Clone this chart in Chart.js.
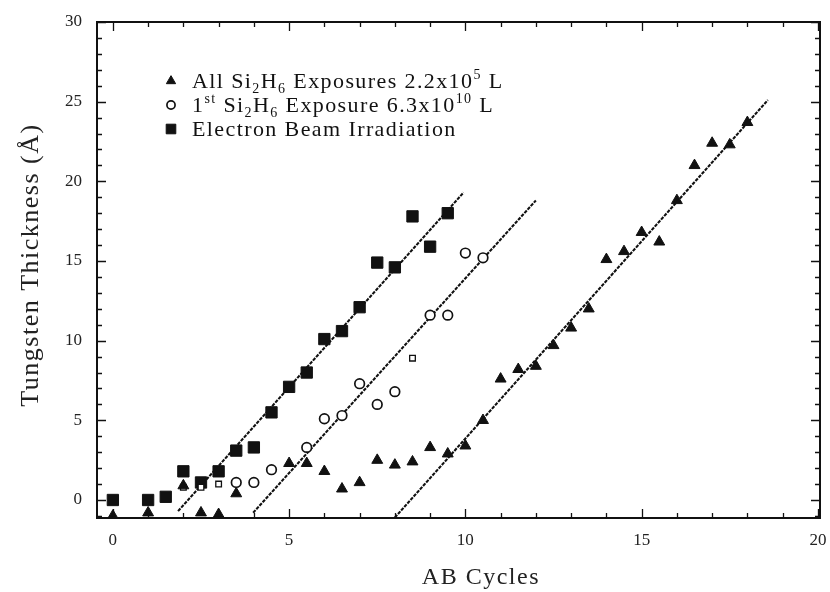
<!DOCTYPE html>
<html>
<head>
<meta charset="utf-8">
<script src="https://cdn.jsdelivr.net/npm/chart.js@4.4.1/dist/chart.umd.min.js"></script>
<style>
  html, body { margin: 0; padding: 0; background: #fff; }
  #wrap { width: 830px; height: 592px; }
</style>
</head>
<body>
<div id="wrap"><canvas id="growthChart"></canvas></div>
<script>
// ---- measurements: thickness (Å) vs AB cycle ----
const allExpCycles = [0, 1, 2, 2.5, 3, 3.5, 5, 5.5, 6, 6.5, 7, 7.5, 8, 8.5, 9, 9.5, 10, 10.5, 11, 11.5, 12, 12.5, 13, 13.5, 14, 14.5, 15, 15.5, 16, 16.5, 17, 17.5, 18];
const allExpThick = [-1.0, -0.8, 0.9, -0.8, -0.9, 0.4, 2.3, 2.3, 1.8, 0.7, 1.1, 2.5, 2.2, 2.4, 3.3, 2.9, 3.4, 5.0, 7.6, 8.2, 8.4, 9.7, 10.8, 12.0, 15.1, 15.6, 16.8, 16.2, 18.8, 21.0, 22.4, 22.3, 23.7];

const firstExpCycles = [3.5, 4, 4.5, 5.5, 6, 6.5, 7, 7.5, 8, 9, 9.5, 10, 10.5];
const firstExpThick = [1.1, 1.1, 1.9, 3.3, 5.1, 5.3, 7.3, 6.0, 6.8, 11.6, 11.6, 15.5, 15.2];

// small open squares scattered near the first-exposure points
const openSqCycles = [2, 2.5, 3, 8.5];
const openSqThick = [0.8, 0.8, 1.0, 8.9];

const beamCycles = [0, 1, 1.5, 2, 2.5, 3, 3.5, 4, 4.5, 5, 5.5, 6, 6.5, 7, 7.5, 8, 8.5, 9, 9.5];
const beamThick = [0, 0, 0.2, 1.8, 1.1, 1.8, 3.1, 3.3, 5.5, 7.1, 8.0, 10.1, 10.6, 12.1, 14.9, 14.6, 17.8, 15.9, 18.0];

// ---- linear fits (end points) ----
const beamFitX = [1.85, 9.95];
const beamFitY = [-0.7, 19.3];
const firstFitX = [3.98, 12.0];
const firstFitY = [-0.8, 18.8];
const allFitX = [8.0, 18.58];
const allFitY = [-1.1, 25.1];

// ---- axes ----
const xTickValues = [0, 5, 10, 15, 20];
const yTickValues = [0, 5, 10, 15, 20, 25, 30];
const xTitle = "AB Cycles";
const yTitle = "Tungsten Thickness (Å)";

// legend text, split into runs: 0 = normal, -1 = subscript, 1 = superscript
const legendRows = [
  [["All Si", 0], ["2", -1], ["H", 0], ["6", -1], [" Exposures 2.2x10", 0], ["5", 1], [" L", 0]],
  [["1", 0], ["st", 1], [" Si", 0], ["2", -1], ["H", 0], ["6", -1], [" Exposure 6.3x10", 0], ["10", 1], [" L", 0]],
  [["Electron Beam Irradiation", 0]],
];

const INK = "#111";
const SERIF = "'Liberation Serif', 'DejaVu Serif', serif";

function toPoints(xs, ys) {
  return xs.map((x, i) => ({ x: x, y: ys[i] }));
}

function fitLine(xs, ys) {
  return {
    type: "line",
    data: toPoints(xs, ys),
    borderColor: INK,
    borderWidth: 2.1,
    borderDash: [3.5, 1.2],
    pointRadius: 0,
    fill: false,
    order: 5,
  };
}

const datasets = [
  {
    label: "all",
    data: toPoints(allExpCycles, allExpThick),
    pointStyle: "triangle",
    pointRadius: 6.3,
    backgroundColor: INK,
    borderColor: INK,
    borderWidth: 1,
    legendRow: 0,
  },
  {
    label: "first",
    data: toPoints(firstExpCycles, firstExpThick),
    pointStyle: "circle",
    pointRadius: 4.8,
    backgroundColor: "#fff",
    borderColor: INK,
    borderWidth: 1.7,
    legendRow: 1,
  },
  {
    label: "open squares",
    data: toPoints(openSqCycles, openSqThick),
    pointStyle: "rect",
    pointRadius: 4,
    backgroundColor: "#fff",
    borderColor: INK,
    borderWidth: 1.3,
  },
  {
    label: "beam",
    data: toPoints(beamCycles, beamThick),
    pointStyle: "rect",
    pointRadius: 8,
    backgroundColor: INK,
    borderColor: INK,
    borderWidth: 1,
    legendRow: 2,
  },
  fitLine(beamFitX, beamFitY),
  fitLine(firstFitX, firstFitY),
  fitLine(allFitX, allFitY),
];

// inward tick marks on all four sides plus top/right frame
const frameTicks = {
  id: "frameTicks",
  afterDraw(chart) {
    const { ctx, chartArea: a, scales } = chart;
    const xs = scales.x, ys = scales.y;
    ctx.save();
    ctx.strokeStyle = INK;
    ctx.lineWidth = 2;
    ctx.beginPath();
    ctx.moveTo(a.left, a.top);
    ctx.lineTo(a.right, a.top);
    ctx.lineTo(a.right, a.bottom);
    ctx.stroke();

    ctx.lineWidth = 1.3;
    ctx.beginPath();
    for (let v = Math.ceil(xs.min); v <= xs.max; v++) {
      const len = v % 5 === 0 ? 9 : 5;
      const px = Math.round(xs.getPixelForValue(v)) + 0.5;
      ctx.moveTo(px, a.bottom);
      ctx.lineTo(px, a.bottom - len);
      ctx.moveTo(px, a.top);
      ctx.lineTo(px, a.top + len);
    }
    for (let v = Math.ceil(ys.min); v <= ys.max; v++) {
      const len = v % 5 === 0 ? 9 : 5;
      const py = Math.round(ys.getPixelForValue(v)) + 0.5;
      ctx.moveTo(a.left, py);
      ctx.lineTo(a.left + len, py);
      ctx.moveTo(a.right, py);
      ctx.lineTo(a.right - len, py);
    }
    ctx.stroke();
    ctx.restore();
  },
};

// axis captions, slightly letter-spaced like the old typeset figure
const axisCaptions = {
  id: "axisCaptions",
  afterDraw(chart) {
    const { ctx, chartArea: a } = chart;
    ctx.save();
    ctx.fillStyle = "#222";
    ctx.textAlign = "center";
    ctx.textBaseline = "middle";
    ctx.letterSpacing = "1.5px";

    ctx.font = "24px " + SERIF;
    ctx.fillText(xTitle, a.left + (a.right - a.left) * 0.531, 578);

    ctx.font = "26px " + SERIF;
    ctx.translate(31, (a.top + a.bottom) / 2 - 5);
    ctx.rotate(-Math.PI / 2);
    ctx.fillText(yTitle, 0, 0);
    ctx.restore();
  },
};

// legend with sub/superscripts, drawn inside the plot
const richLegend = {
  id: "richLegend",
  afterDraw(chart) {
    const { ctx, chartArea: a } = chart;
    const size = 22;
    const small = 14;
    const markerX = a.left + 74;
    const textX = a.left + 95;
    const rowY = [a.top + 59, a.top + 83, a.top + 107];
    ctx.save();
    ctx.letterSpacing = "1.4px";
    chart.data.datasets.forEach((ds) => {
      if (ds.legendRow === undefined) return;
      const y = rowY[ds.legendRow];
      ctx.fillStyle = ds.backgroundColor;
      ctx.strokeStyle = ds.borderColor;
      ctx.lineWidth = ds.borderWidth;
      Chart.helpers.drawPoint(ctx, {
        pointStyle: ds.pointStyle,
        radius: ds.pointRadius * 0.85,
        rotation: 0,
        borderWidth: ds.borderWidth,
      }, markerX, y);

      let x = textX;
      ctx.fillStyle = INK;
      ctx.textBaseline = "alphabetic";
      legendRows[ds.legendRow].forEach(([txt, shift]) => {
        ctx.font = (shift === 0 ? size : small) + "px " + SERIF;
        const dy = shift === 0 ? 0 : shift < 0 ? 5 : -9;
        ctx.fillText(txt, x, y + 7 + dy);
        x += ctx.measureText(txt).width;
      });
    });
    ctx.restore();
  },
};

new Chart(document.getElementById("growthChart"), {
  type: "scatter",
  data: { datasets: datasets },
  options: {
    responsive: true,
    maintainAspectRatio: false,
    animation: false,
    layout: { padding: { top: 22, right: 10, left: 0, bottom: 0 } },
    plugins: {
      legend: { display: false },
      tooltip: { enabled: false },
    },
    scales: {
      x: {
        type: "linear",
        min: -0.45,
        max: 20.06,
        afterBuildTicks: (s) => { s.ticks = xTickValues.map((v) => ({ value: v })); },
        afterFit: (s) => {
          s.height = 74;
          s.paddingLeft = 0;
          s.paddingRight = 0;
        },
        grid: { display: false, drawTicks: false },
        border: { display: true, color: INK, width: 2 },
        ticks: {
          padding: 12,
          color: "#222",
          maxRotation: 0,
          font: { family: SERIF, size: 17 },
        },
        title: { display: false },
      },
      y: {
        type: "linear",
        min: -1.13,
        max: 30,
        afterBuildTicks: (s) => { s.ticks = yTickValues.map((v) => ({ value: v })); },
        afterFit: (s) => {
          s.width = 97;
          s.paddingTop = 0;
          s.paddingBottom = 0;
        },
        grid: { display: false, drawTicks: false },
        border: { display: true, color: INK, width: 2 },
        ticks: {
          padding: 15,
          color: "#222",
          font: { family: SERIF, size: 17 },
        },
        title: { display: false },
      },
    },
  },
  plugins: [frameTicks, axisCaptions, richLegend],
});
</script>
</body>
</html>
